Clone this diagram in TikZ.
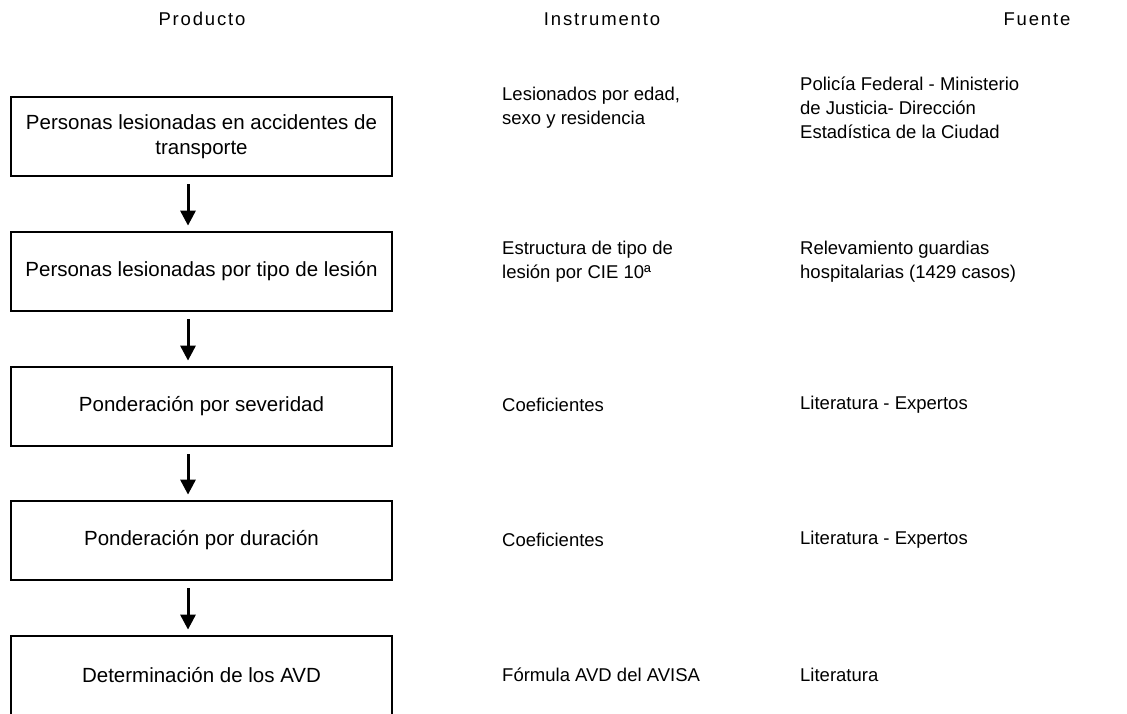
\documentclass[tikz,border=0pt]{standalone}
\usepackage{fontspec}
\setmainfont{Liberation Sans}
\usetikzlibrary{arrows.meta}

\tikzset{
	paso/.style={draw,line width=2.8pt,minimum width=381pt,minimum height=79pt,inner sep=0pt,align=center,font=\fontsize{20.5}{25}\selectfont},
	dato/.style={anchor=west,align=left,inner sep=0pt,font=\fontsize{18.5}{24}\selectfont},
	titulo/.style={inner sep=0pt,font=\fontsize{18.5}{22}\selectfont\addfontfeature{LetterSpace=10}},
	flecha/.style={line width=3pt,-{Triangle[length=15pt,width=15pt]},shorten <=7pt,shorten >=5pt}
}

\begin{document}
\begin{tikzpicture}[x=1pt,y=-1pt]
	\clip (0,0) rectangle (1127,713);
	\fill[white] (0,0) rectangle (1127,713);
	
	%titles
	\node[titulo] (tprod) at (202,19)  {Producto};
	\node[titulo] (tinst) at (602,19)  {Instrumento};
	\node[titulo] (tfuen) at (1037,19) {Fuente};
	
	%boxes
	\node[paso] (p1) at (201.5,136.5) {Personas lesionadas en accidentes de\\transporte};
	\node[paso] (p2) at (201.5,271.5) {Personas lesionadas por tipo de lesión};
	\node[paso] (p3) at (201.5,406.5) {Ponderación por severidad};
	\node[paso] (p4) at (201.5,540.5) {Ponderación por duración};
	\node[paso] (p5) at (201.5,675.5) {Determinación de los AVD};
	
	%arrows
	\coordinate (eje) at (188,0);
	\draw[flecha] (p1.south -| eje) -- (p2.north -| eje);
	\draw[flecha] (p2.south -| eje) -- (p3.north -| eje);
	\draw[flecha] (p3.south -| eje) -- (p4.north -| eje);
	\draw[flecha] (p4.south -| eje) -- (p5.north -| eje);
	
	%instrumento
	\node[dato] (i1) at (502,108) {Lesionados por edad,\\sexo y residencia};
	\node[dato] (i2) at (502,262) {Estructura de tipo de\\lesión por CIE 10ª};
	\node[dato] (i3) at (502,405) {Coeficientes};
	\node[dato] (i4) at (502,540) {Coeficientes};
	\node[dato] (i5) at (502,675) {Fórmula AVD del AVISA};
	
	%fuente
	\node[dato] (f1) at (800,108) {Policía Federal - Ministerio\\de Justicia- Dirección\\Estadística de la Ciudad};
	\node[dato] (f2) at (800,262) {Relevamiento guardias\\hospitalarias (1429 casos)};
	\node[dato] (f3) at (800,405) {Literatura - Expertos};
	\node[dato] (f4) at (800,540) {Literatura - Expertos};
	\node[dato] (f5) at (800,675) {Literatura};
\end{tikzpicture}
\end{document}
